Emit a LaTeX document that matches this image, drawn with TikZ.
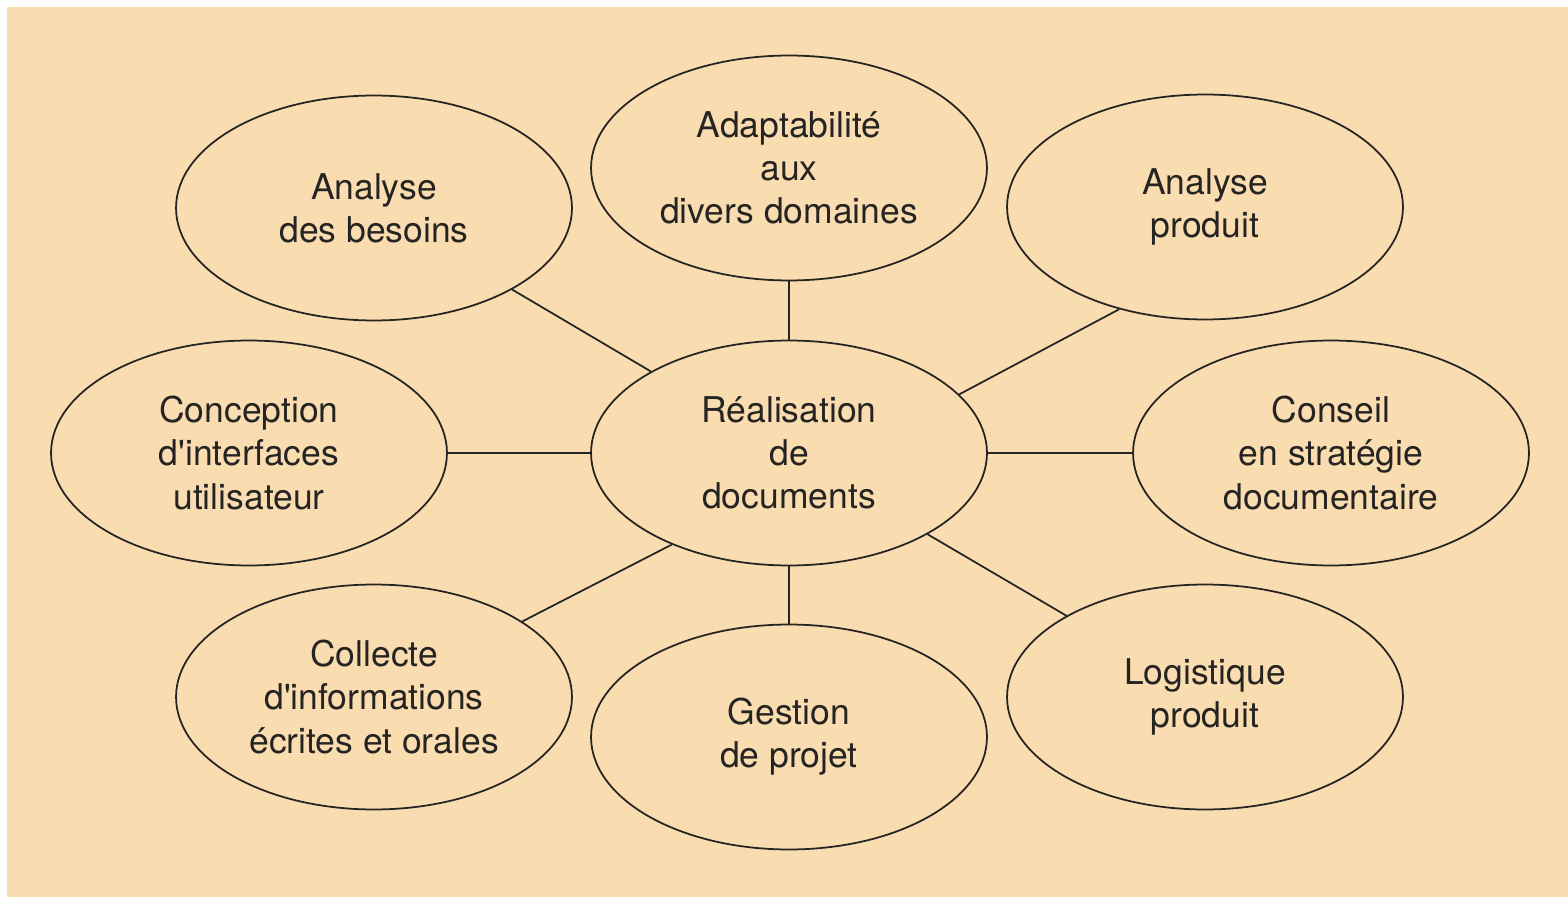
\documentclass[tikz,border=0pt]{standalone}
\usepackage{fontspec}
\setmainfont{TeX Gyre Heros}
\usetikzlibrary{shapes.geometric}
\definecolor{papier}{RGB}{249,221,176}
\definecolor{encre}{RGB}{38,36,34}
\begin{document}
\begin{tikzpicture}[x=0.02cm,y=-0.02cm,
	bulle/.style={draw=encre,line width=1pt,ellipse,minimum width=7.92cm,
		minimum height=4.5cm,inner sep=0pt,align=center,text=encre,
		font=\fontsize{20.2}{24.5}\selectfont},
	lien/.style={draw=encre,line width=1pt}]
\useasboundingbox (0,0) rectangle (1568,898);
\fill[white] (0,0) rectangle (1568,898);
\fill[color=papier] (7,7) rectangle (1568,897);
\node (rea) at (789,453) [bulle] {Réalisation\\de\\documents};
\node (ada) at (789,168) [bulle] {Adaptabilité\\aux\\divers domaines};
\node (abe) at (374,208) [bulle] {Analyse\\des besoins};
\node (apr) at (1205,207) [bulle] {Analyse\\produit};
\node (con) at (249,453) [bulle] {Conception\\d\textquotesingle interfaces\\utilisateur};
\node (cns) at (1331,453) [bulle] {Conseil\\en stratégie\\documentaire};
\node (col) at (374,697) [bulle] {Collecte\\d\textquotesingle informations\\écrites et orales};
\node (ges) at (789,737) [bulle] {Gestion\\de projet};
\node (log) at (1205,697) [bulle] {Logistique\\produit};
\foreach \n in {ada,abe,con,cns,ges,log}{
\draw[lien] (rea)--(\n);
};
\draw[lien] (rea.19)--(apr.230);
\draw[lien] (rea.218)--(col.27);
\end{tikzpicture}
\end{document}
